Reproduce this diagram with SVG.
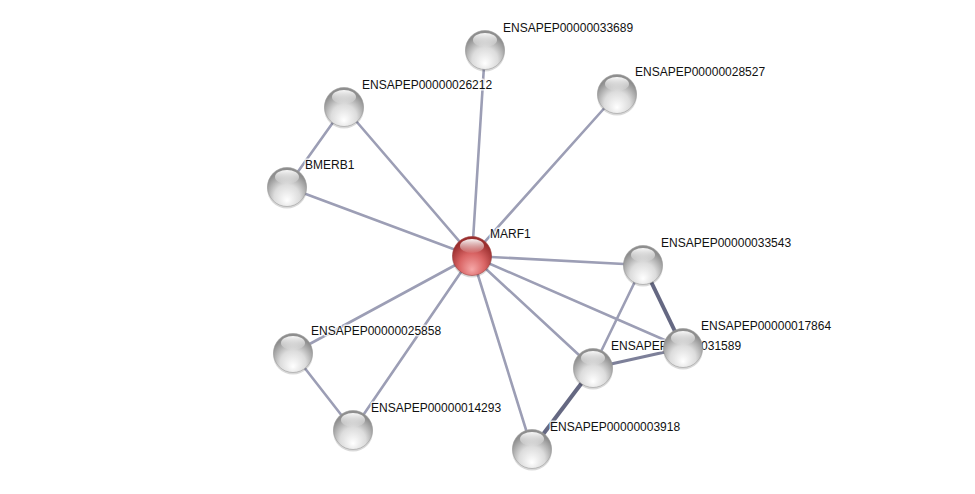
<svg xmlns="http://www.w3.org/2000/svg" width="975" height="494" viewBox="0 0 975 494">
<defs>
<radialGradient id="gGrey" cx="50%" cy="70%" r="60%" fx="50%" fy="85%">
<stop offset="0" stop-color="#ffffff"/>
<stop offset="0.55" stop-color="#dcdcdc"/>
<stop offset="1" stop-color="#8e8e8e"/>
</radialGradient>
<radialGradient id="gRed" cx="50%" cy="70%" r="60%" fx="50%" fy="85%">
<stop offset="0" stop-color="#f6a8a8"/>
<stop offset="0.55" stop-color="#d96464"/>
<stop offset="1" stop-color="#9a2e2e"/>
</radialGradient>
<linearGradient id="gHi" x1="0" y1="0" x2="0" y2="1">
<stop offset="0" stop-color="#ffffff" stop-opacity="0.95"/>
<stop offset="1" stop-color="#ffffff" stop-opacity="0.05"/>
</linearGradient>
<g id="sphere">
<circle r="20" cx="0" cy="1.5" fill="#000" opacity="0.15"/>
<circle r="19.5" fill="url(#gGrey)" stroke="#9a9a9a" stroke-width="0.6"/>
<ellipse cx="0" cy="-10" rx="12" ry="7" fill="url(#gHi)"/>
</g>
<g id="sphereRed">
<circle r="20" cx="0" cy="1.5" fill="#000" opacity="0.15"/>
<circle r="19.5" fill="url(#gRed)" stroke="#a04040" stroke-width="0.6"/>
<ellipse cx="0" cy="-10" rx="12" ry="7" fill="url(#gHi)"/>
</g>
</defs>
<style>
.e{stroke:#9c9eb5;stroke-width:2.6;fill:none;stroke-linecap:round}
.e2{stroke:#7d8099;stroke-width:3.2;fill:none}
.e3{stroke:#656882;stroke-width:4;fill:none}
text{font-family:"Liberation Sans",Arial,sans-serif;font-size:12px;fill:#111;stroke:#fff;stroke-width:3;stroke-opacity:0.75;paint-order:stroke;stroke-linejoin:round}
</style>
<rect width="975" height="494" fill="#fff"/>
<g id="edges">
<line class="e" x1="472" y1="256" x2="485" y2="50"/>
<line class="e" x1="472" y1="256" x2="344" y2="107"/>
<line class="e" x1="472" y1="256" x2="617" y2="94"/>
<line class="e" x1="472" y1="256" x2="287" y2="187"/>
<line class="e" x1="472" y1="256" x2="643" y2="265"/>
<line class="e" x1="472" y1="256" x2="683" y2="348"/>
<line class="e" x1="472" y1="256" x2="593" y2="368"/>
<line class="e" x1="472" y1="256" x2="293" y2="353"/>
<line class="e" x1="472" y1="256" x2="353" y2="430"/>
<line class="e" x1="472" y1="256" x2="532" y2="449"/>
<line class="e" x1="344" y1="107" x2="287" y2="187"/>
<line class="e" x1="293" y1="353" x2="353" y2="430"/>
<line class="e" x1="643" y1="265" x2="593" y2="368"/>
<line class="e3" x1="643" y1="265" x2="683" y2="348"/>
<line class="e2" x1="593" y1="368" x2="683" y2="348"/>
<line class="e3" x1="593" y1="368" x2="532" y2="449"/>
</g>
<g id="n33689"><use href="#sphere" x="485" y="50"/><text x="503" y="32">ENSAPEP00000033689</text></g>
<g id="n26212"><use href="#sphere" x="344" y="107"/><text x="362" y="89">ENSAPEP00000026212</text></g>
<g id="n28527"><use href="#sphere" x="617" y="94"/><text x="635" y="76">ENSAPEP00000028527</text></g>
<g id="nBMERB1"><use href="#sphere" x="287" y="187"/><text x="305" y="169">BMERB1</text></g>
<g id="n25858"><use href="#sphere" x="293" y="353"/><text x="311" y="335">ENSAPEP00000025858</text></g>
<g id="n14293"><use href="#sphere" x="353" y="430"/><text x="371" y="412">ENSAPEP00000014293</text></g>
<g id="n3918"><use href="#sphere" x="532" y="449"/><text x="550" y="431">ENSAPEP00000003918</text></g>
<g id="n33543"><use href="#sphere" x="643" y="265"/><text x="661" y="247">ENSAPEP00000033543</text></g>
<g id="n31589"><use href="#sphere" x="593" y="368"/><text x="611" y="350">ENSAPEP00000031589</text></g>
<g id="n17864"><use href="#sphere" x="683" y="348"/><text x="701" y="330">ENSAPEP00000017864</text></g>
<g id="nMARF1"><use href="#sphereRed" x="472" y="256"/><text x="490" y="238">MARF1</text></g>
</svg>
